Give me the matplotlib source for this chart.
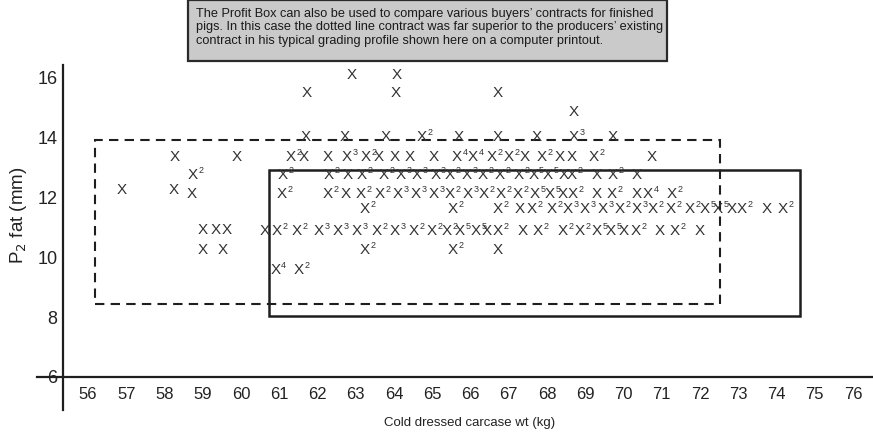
import matplotlib
matplotlib.use('Agg')

import matplotlib.pyplot as plt
from matplotlib.patches import Rectangle

plt.rcParams['font.family'] = ['Liberation Sans', 'DejaVu Sans']

# Grading profile: one row per P2 fat level, carcase weights and pig counts per mark
fat_levels = [16.1, 15.5, 14.86, 14.03, 13.36, 12.76, 12.12, 11.62, 10.88, 10.25, 9.58]

weights_by_row = [
    [62.89, 64.07],
    [61.72, 64.05, 66.70],
    [68.71],
    [61.70, 62.72, 63.79, 64.72, 65.70, 66.70, 67.73, 68.71, 69.73],
    [58.27, 59.90, 61.29, 61.64, 62.27, 62.77, 63.25, 63.60, 64.02, 64.41, 65.04,
     65.64, 66.07, 66.55, 66.99, 67.42, 67.86, 68.34, 68.65, 69.23, 70.74],
    [58.75, 61.09, 62.29, 62.80, 63.15, 63.73, 64.17, 64.60, 65.08, 65.46, 65.90,
     66.33, 66.77, 67.25, 67.64, 68.03, 68.43, 68.65, 69.30, 69.73, 70.34],
    [58.72, 61.07, 62.27, 62.75, 63.14, 63.63, 64.10, 64.58, 65.05, 65.46, 65.92,
     66.35, 66.80, 67.24, 67.69, 68.08, 68.42, 68.68, 69.31, 69.70, 70.35, 70.64, 71.27],
    [63.24, 65.54, 66.72, 67.29, 67.61, 68.13, 68.55, 68.99, 69.46, 69.91, 70.35,
     70.77, 71.24, 71.74, 72.13, 72.47, 72.84, 73.10, 73.75, 74.17],
    [60.63, 60.94, 61.46, 62.03, 62.54, 63.03, 63.56, 64.03, 64.52, 64.99, 65.39,
     65.73, 66.14, 66.43, 66.72, 67.37, 67.76, 68.42, 68.86, 69.31, 69.67, 70.01,
     70.33, 70.95, 71.35, 72.0],
    [59.01, 59.53, 63.24, 65.54, 66.72],
    [60.90, 61.51],
]

counts_by_row = [
    [1, 1],
    [1, 1, 1],
    [1],
    [1, 1, 1, 2, 1, 1, 1, 3, 1],
    [1, 1, 2, 1, 1, 3, 2, 1, 1, 1, 1, 4, 4, 2, 2, 1, 2, 1, 1, 2, 1],
    [2, 2, 2, 1, 2, 2, 3, 3, 3, 2, 3, 2, 2, 2, 5, 5, 1, 2, 1, 2, 1],
    [1, 2, 2, 1, 2, 2, 3, 3, 3, 2, 3, 2, 2, 2, 5, 5, 1, 2, 1, 2, 1, 4, 2],
    [2, 2, 2, 1, 2, 2, 3, 3, 3, 2, 3, 2, 2, 2, 5, 5, 1, 2, 1, 2],
    [1, 2, 2, 3, 3, 3, 2, 3, 2, 2, 2, 5, 5, 1, 2, 1, 2, 2, 2, 5, 5, 1, 2, 1, 2, 1],
    [1, 1, 2, 2, 1],
    [4, 2],
]

# a few lighter pigs sit slightly off their row
extra_weights = [56.88, 58.25, 59.01, 59.33, 59.63]
extra_fat = [12.25, 12.25, 10.92, 10.92, 10.92]
extra_counts = [1, 1, 1, 1, 1]

# contract boxes: (min wt, max wt, min fat, max fat)
dotted_contract = (56.18, 72.52, 8.44, 13.92)
existing_contract = (60.73, 74.62, 8.05, 12.93)

x_ticks = list(range(56, 77))
y_ticks = [6, 8, 10, 12, 14, 16]

note_lines = [
    "The Profit Box can also be used to compare various buyers\u2019 contracts for finished",
    "pigs. In this case the dotted line contract was far superior to the producers\u2019 existing",
    "contract in his typical grading profile shown here on a computer printout.",
]

W, H = 873, 434
fig = plt.figure(figsize=(W / 100, H / 100), dpi=100)
fig.patch.set_facecolor('white')

# axes spans the drawn axis lines
ax = fig.add_axes([37 / W, 1 - 410 / H, (W - 37) / W, (410 - 65) / H])
ax.set_xlim(54.667, 76.523)
ax.set_ylim(4.896, 16.43)
ax.patch.set_alpha(0)

ink = '#1e1e1e'
for side in ['top', 'right']:
    ax.spines[side].set_visible(False)
ax.spines['left'].set_position(('data', 55.346))
ax.spines['bottom'].set_position(('data', 6))
for side in ['left', 'bottom']:
    ax.spines[side].set_linewidth(1.6)
    ax.spines[side].set_color(ink)

ax.set_xticks(x_ticks)
ax.set_xticklabels([str(t) for t in x_ticks], fontsize=12, color='#222222')
ax.set_yticks(y_ticks)
ax.set_yticklabels([str(t) for t in y_ticks], fontsize=13, color='#222222')
ax.tick_params(axis='x', length=0, pad=7)
ax.tick_params(axis='y', length=0, pad=4)

fig.text(470 / W, 1 - 423 / H, 'Cold dressed carcase wt (kg)', fontsize=9.5,
         ha='center', va='center', color='#222222')
fig.text(19 / W, 1 - 215 / H, 'P$_2$ fat (mm)', fontsize=13.5, rotation=90,
         ha='center', va='center', color='#222222')

# contract boxes
x0, x1, y0, y1 = dotted_contract
ax.add_patch(Rectangle((x0, y0), x1 - x0, y1 - y0, fill=False, edgecolor=ink,
                       linewidth=1.5, linestyle=(0, (4.5, 3)), zorder=2))
x0, x1, y0, y1 = existing_contract
ax.add_patch(Rectangle((x0, y0), x1 - x0, y1 - y0, fill=False, edgecolor=ink,
                       linewidth=1.8, zorder=2))


def put_mark(x, y, n):
    ax.text(x, y, 'X', fontsize=11, ha='center', va='center', color='#333333', zorder=3)
    if n > 1:
        ax.annotate(str(n), (x, y), xytext=(4.2, 3.2), textcoords='offset points',
                    fontsize=6.5, ha='left', va='center', color='#333333', zorder=3)


for fat, wts, cnts in zip(fat_levels, weights_by_row, counts_by_row):
    for w, c in zip(wts, cnts):
        put_mark(w, fat, c)
for w, f, c in zip(extra_weights, extra_fat, extra_counts):
    put_mark(w, f, c)

# caption box at the top
fig.patches.append(Rectangle((188 / W, 1 - 61 / H), (667 - 188) / W, 61 / H,
                             transform=fig.transFigure, facecolor='#cacaca',
                             edgecolor='#2a2a2a', linewidth=1.6))
for i, line in enumerate(note_lines):
    fig.text(196 / W, 1 - (13.5 + 13.8 * i) / H, line, fontsize=9.2,
             ha='left', va='center', color='#1a1a1a')

fig.savefig('out.png', dpi=100, facecolor='white')
